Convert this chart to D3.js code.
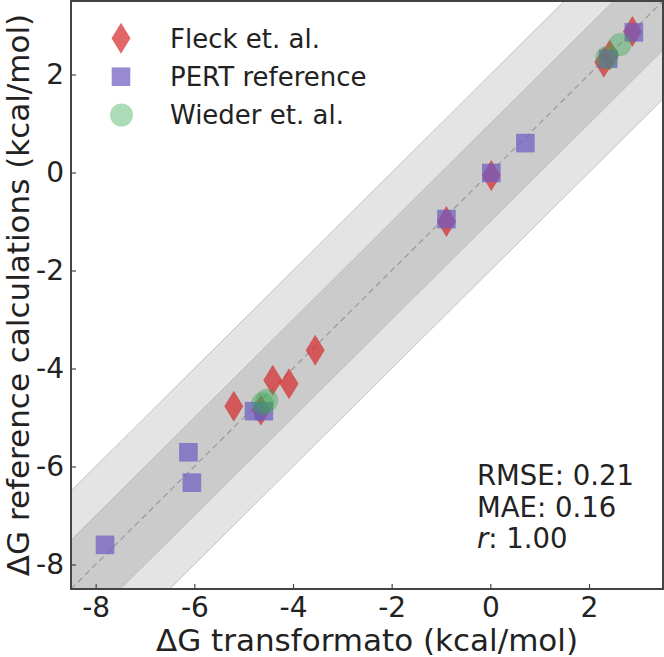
<!DOCTYPE html>
<html>
<head>
<meta charset="utf-8">
<script src="https://cdn.jsdelivr.net/npm/d3@7"></script>
<style>
  html, body { margin: 0; padding: 0; background: #fff; }
  svg { display: block; font-family: "DejaVu Sans", sans-serif; }
</style>
</head>
<body>
<svg id="chart" width="664" height="657"></svg>
<script>
// ---- data ----
const fleckX  = [2.88, 2.30, 2.42, 0.02, -0.89, -3.55, -4.41, -4.08, -5.20, -4.65];
const fleckY  = [2.88, 2.25, 2.40, -0.06, -1.00, -3.63, -4.24, -4.31, -4.77, -4.85];
const pertX   = [2.91, 2.39, 0.71, 0.02, -0.89, -4.79, -4.59, -6.12, -6.05, -7.81];
const pertY   = [2.86, 2.32, 0.60, -0.01, -0.95, -4.87, -4.87, -5.71, -6.33, -7.60];
const wiederX = [2.63, 2.36, -4.53, -4.62];
const wiederY = [2.61, 2.34, -4.65, -4.72];
const tickValues = [-8, -6, -4, -2, 0, 2];
const legendLabels = ["Fleck et. al.", "PERT reference", "Wieder et. al."];
const statLines = [["RMSE", "0.21"], ["MAE", "0.16"], ["r", "1.00"]];
const domain = [-8.5, 3.5];

// ---- layout ----
const pLeft = 71, pRight = 663, pTop = 1, pBottom = 589;
const svg = d3.select("#chart");
const x = d3.scaleLinear().domain(domain).range([pLeft, pRight]);
const y = d3.scaleLinear().domain(domain).range([pBottom, pTop]);

const colRed = "#d62728", colPurple = "#6f5bc0", colGreen = "#3aaa55";

svg.append("defs").append("clipPath").attr("id", "clip")
  .append("rect").attr("x", pLeft).attr("y", pTop).attr("width", pRight - pLeft).attr("height", pBottom - pTop);

const plot = svg.append("g").attr("clip-path", "url(#clip)");

// bands
function band(w, fill) {
  const lo = domain[0] - 3, hi = domain[1] + 3;
  const pts = [[lo, lo + w], [hi, hi + w], [hi, hi - w], [lo, lo - w]];
  plot.append("path")
    .attr("d", d3.line().x(d => x(d[0])).y(d => y(d[1]))(pts) + "Z")
    .attr("fill", fill);
  [w, -w].forEach(o => {
    plot.append("line")
      .attr("x1", x(lo)).attr("y1", y(lo + o)).attr("x2", x(hi)).attr("y2", y(hi + o))
      .attr("stroke", "#b8b8b8").attr("stroke-width", 0.8);
  });
}
band(2, "#e4e4e4");
band(1, "#cbcbcb");

plot.append("line")
  .attr("x1", x(domain[0])).attr("y1", y(domain[0]))
  .attr("x2", x(domain[1])).attr("y2", y(domain[1]))
  .attr("stroke", "#999").attr("stroke-width", 1.2).attr("stroke-dasharray", "6,4");

// markers
const diamond = (cx, cy) => `M${cx},${cy - 15.5}L${cx + 9.5},${cy}L${cx},${cy + 15.5}L${cx - 9.5},${cy}Z`;
function drawDiamond(g, cx, cy) {
  g.append("path").attr("d", diamond(cx, cy)).attr("fill", colRed).attr("fill-opacity", 0.7);
}
function drawSquare(g, cx, cy) {
  g.append("rect").attr("x", cx - 9.3).attr("y", cy - 9.3).attr("width", 18.6).attr("height", 18.6)
    .attr("fill", colPurple).attr("fill-opacity", 0.72);
}
function drawCircle(g, cx, cy) {
  g.append("circle").attr("cx", cx).attr("cy", cy).attr("r", 11.5)
    .attr("fill", colGreen).attr("fill-opacity", 0.42);
}
fleckX.forEach((v, i) => drawDiamond(plot, x(v), y(fleckY[i])));
pertX.forEach((v, i) => drawSquare(plot, x(v), y(pertY[i])));
wiederX.forEach((v, i) => drawCircle(plot, x(v), y(wiederY[i])));

// axes
const xAxis = d3.axisBottom(x).tickValues(tickValues).tickSizeInner(-5).tickSizeOuter(0).tickPadding(8)
  .tickFormat(d => String(d));
const yAxis = d3.axisLeft(y).tickValues(tickValues).tickSizeInner(-5).tickSizeOuter(0).tickPadding(7)
  .tickFormat(d => String(d));

const gx = svg.append("g").attr("transform", `translate(0,${pBottom})`).call(xAxis);
const gy = svg.append("g").attr("transform", `translate(${pLeft},0)`).call(yAxis);
[gx, gy].forEach(g => {
  g.select(".domain").remove();
  g.selectAll(".tick line").attr("stroke", "#444").attr("stroke-width", 1.2);
  g.selectAll(".tick text").attr("font-size", 28).attr("fill", "#222")
    .attr("font-family", "DejaVu Sans, sans-serif");
});

// frame
svg.append("rect").attr("x", pLeft).attr("y", pTop).attr("width", pRight - pLeft).attr("height", pBottom - pTop)
  .attr("fill", "none").attr("stroke", "#444").attr("stroke-width", 2);

// axis titles
svg.append("text").attr("x", (pLeft + pRight) / 2).attr("y", 651).attr("text-anchor", "middle")
  .attr("font-size", 31).attr("fill", "#222").text("ΔG transformato (kcal/mol)");
svg.append("text").attr("transform", `translate(29,${(pTop + pBottom) / 2}) rotate(-90)`)
  .attr("text-anchor", "middle").attr("font-size", 31).attr("fill", "#222")
  .text("ΔG reference calculations (kcal/mol)");

// legend
const leg = svg.append("g");
const rowY = [38.3, 76.7, 115];
drawDiamond(leg, 121, rowY[0]);
drawSquare(leg, 121, rowY[1]);
drawCircle(leg, 121.5, rowY[2]);
legendLabels.forEach((t, i) => {
  leg.append("text").attr("x", 170).attr("y", rowY[i]).attr("dy", "0.36em")
    .attr("font-size", 26).attr("fill", "#222").text(t);
});

// stats
const baseY = [485, 517, 548];
statLines.forEach((s, i) => {
  const t = svg.append("text").attr("x", 477).attr("y", baseY[i]).attr("font-size", 27.5).attr("fill", "#222");
  if (s[0] === "r") {
    t.append("tspan").attr("font-style", "italic").text("r");
    t.append("tspan").text(": " + s[1]);
  } else {
    t.text(s[0] + ": " + s[1]);
  }
});
</script>
</body>
</html>
